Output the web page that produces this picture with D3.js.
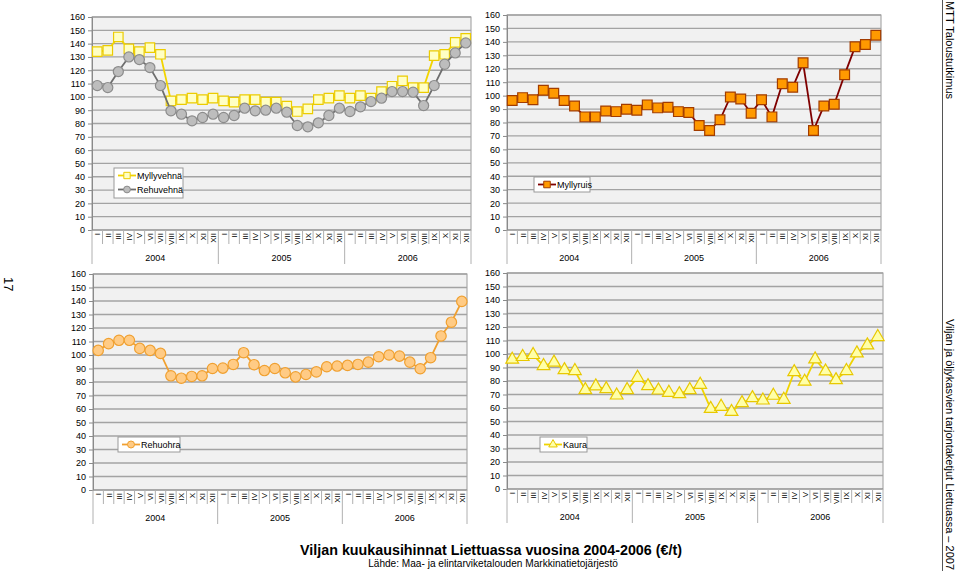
<!DOCTYPE html>
<html><head><meta charset="utf-8">
<script src="https://cdn.jsdelivr.net/npm/d3@7"></script>
<style>
body{margin:0;background:#fff;}
svg{display:block;font-family:"Liberation Sans",Arial,sans-serif;}
</style></head>
<body><svg id="c" width="960" height="571"></svg>
<script>
const months = ["I","II","III","IV","V","VI","VII","VIII","IX","X","XI","XII"];
const years = ["2004","2005","2006"];
const yTicks = [0,10,20,30,40,50,60,70,80,90,100,110,120,130,140,150,160];

const myllyvehna = [134,135,145,136,134,137,132,97,98,99,98,99,97,96,98,98,96,96,93,89,91,98,99,101,99,101,99,104,108,112,107,107,131,132,141,144];
const rehuvehna = [108.5,107,119,130,128,122,108.5,89.5,87,82,84.5,87,84.5,86,91.5,89.5,90,91.5,88.5,78.5,77.5,80.5,86,91.5,89,92.5,96.5,99,104,104,103.5,93.5,108.5,124.5,133,140.5];
const myllyruis = [96.3,98.5,97,104,101.7,96.3,92.3,84.2,84.2,88.6,88.1,89.9,89.1,93.1,90.9,91.4,88.1,87.4,77.8,74.1,82,99,97.5,86.9,97,84.2,108.9,106.2,124.4,74.1,92.3,93.6,115.6,136.3,138,145];
const rehuohra = [103.4,108.4,110.9,110.9,104.9,103.4,101.2,84.6,82.8,84.1,84.6,90,90.3,93,101.7,92.8,88.5,90,86.8,83.8,85.6,87.5,91.3,91.8,92.3,93,94.7,98.7,100,99.2,94.7,89.8,98,114.1,124.3,139.7];
const kaura = [95.9,97.9,99.4,91.2,93.7,88.2,87.5,73.4,76.1,74.1,69.4,73.4,82.5,76.3,73.1,71.4,70.4,73.4,77.3,59.5,61,57.2,63.7,67.4,65.7,69.2,66.2,86.7,79.6,96.1,87.2,80.8,87.5,100.6,106.5,112.7];

const titleText = "Viljan kuukausihinnat Liettuassa vuosina 2004-2006 (€/t)";
const sourceText = "Lähde: Maa- ja elintarviketalouden Markkinatietojärjestö";

const labels = [];
years.forEach(y => months.forEach(m => labels.push({y, m})));
const idx = d3.range(labels.length);

const svg = d3.select("#c");

const styles = {
  "Myllyvehnä": {line:"#f2d400", fill:"#ffffc4", stroke:"#eccc00", sym:d3.symbolSquare, size:90},
  "Rehuvehnä": {line:"#6e6e6e", fill:"#bdbdbd", stroke:"#8c8c8c", sym:d3.symbolCircle, size:80},
  "Myllyruis": {line:"#7f0000", fill:"#ff9900", stroke:"#a23c00", sym:d3.symbolSquare, size:95},
  "Rehuohra": {line:"#f0a030", fill:"#ffcb85", stroke:"#f0a030", sym:d3.symbolCircle, size:85},
  "Kaura": {line:"#f0d400", fill:"#ffffa8", stroke:"#e8c800", sym:d3.symbolTriangle, size:70}
};

const panels = [
  {x0:92, x1:471, yTop:17, yBot:230, series:[["Myllyvehnä",myllyvehna],["Rehuvehnä",rehuvehna]], legend:{x:114,y:168,w:69,h:30}},
  {x0:507, x1:881, yTop:15, yBot:230, series:[["Myllyruis",myllyruis]], legend:{x:534,y:177,w:56,h:15}},
  {x0:93, x1:467, yTop:274, yBot:490, series:[["Rehuohra",rehuohra]], legend:{x:118,y:437,w:62,h:15}},
  {x0:507, x1:883, yTop:273, yBot:489, series:[["Kaura",kaura]], legend:{x:540,y:437,w:47,h:15}}
];

panels.forEach(p => {
  const g = svg.append("g");
  const x = d3.scaleBand().domain(idx).range([p.x0, p.x1]);
  const y = d3.scaleLinear().domain([0,160]).range([p.yBot, p.yTop]);
  g.append("rect").attr("x",p.x0).attr("y",p.yTop).attr("width",p.x1-p.x0).attr("height",p.yBot-p.yTop)
    .attr("fill","#f1f1f1").attr("stroke","#9a9a9a").attr("stroke-width",1);
  g.selectAll(".grid").data(yTicks.slice(1)).join("line")
    .attr("x1",p.x0).attr("x2",p.x1).attr("y1",d=>y(d)).attr("y2",d=>y(d))
    .attr("stroke","#a3a3a3").attr("stroke-width",1.3);
  const ya = g.append("g").attr("transform",`translate(${p.x0},0)`)
    .call(d3.axisLeft(y).tickValues(yTicks).tickSize(4).tickPadding(3));
  ya.select(".domain").attr("stroke","#8a8a8a");
  ya.selectAll(".tick line").attr("stroke","#8a8a8a");
  ya.selectAll("text").attr("font-size",9).attr("fill","#000").attr("font-family","Liberation Sans, Arial, sans-serif");
  g.append("line").attr("x1",p.x0).attr("x2",p.x1).attr("y1",p.yBot).attr("y2",p.yBot).attr("stroke","#8a8a8a");
  const bounds = d3.range(labels.length+1);
  g.selectAll(".sep").data(bounds).join("line")
    .attr("x1",i=>p.x0 + i*x.step()).attr("x2",i=>p.x0 + i*x.step())
    .attr("y1",p.yBot).attr("y2",i=> i%12===0 ? p.yBot+34 : p.yBot+14)
    .attr("stroke","#b0b0b0").attr("stroke-width",1);
  g.selectAll(".mlab").data(idx).join("text")
    .attr("transform",i=>`translate(${x(i)+x.bandwidth()/2+3},${p.yBot+3}) rotate(-90)`)
    .attr("text-anchor","end").attr("font-size",8).attr("fill","#000")
    .text(i=>labels[i].m);
  g.selectAll(".ylab").data(years).join("text")
    .attr("x",(d,k)=>p.x0 + (k*12+6)*x.step()).attr("y",p.yBot+31)
    .attr("text-anchor","middle").attr("font-size",9).attr("fill","#000").text(d=>d);
  p.series.forEach(([name, vals]) => {
    const st = styles[name];
    const line = d3.line().x((d,i)=>x(i)+x.bandwidth()/2).y(d=>y(d));
    g.append("path").datum(vals).attr("d",line).attr("fill","none")
      .attr("stroke",st.line).attr("stroke-width",1.8);
    g.selectAll(null).data(vals).join("path")
      .attr("transform",(d,i)=>`translate(${x(i)+x.bandwidth()/2},${y(d)})`)
      .attr("d",d3.symbol().type(st.sym).size(st.size))
      .attr("fill",st.fill).attr("stroke",st.stroke).attr("stroke-width",1.2);
  });
  const L = p.legend;
  g.append("rect").attr("x",L.x).attr("y",L.y).attr("width",L.w).attr("height",L.h)
    .attr("fill","#fff").attr("stroke","#9a9a9a");
  p.series.forEach(([name], k) => {
    const st = styles[name];
    const cy = L.y + 7.5 + k*14;
    g.append("line").attr("x1",L.x+4).attr("x2",L.x+22).attr("y1",cy).attr("y2",cy)
      .attr("stroke",st.line).attr("stroke-width",1.8);
    g.append("path").attr("transform",`translate(${L.x+13},${cy})`)
      .attr("d",d3.symbol().type(st.sym).size(st.size*0.45))
      .attr("fill",st.fill).attr("stroke",st.stroke).attr("stroke-width",1);
    g.append("text").attr("x",L.x+23).attr("y",cy+3.3).attr("font-size",9).attr("fill","#000").text(name);
  });
});

svg.append("text").attr("x",491).attr("y",555).attr("text-anchor","middle")
  .attr("font-size",14.3).attr("font-weight","bold").text(titleText);
svg.append("text").attr("x",493).attr("y",567).attr("text-anchor","middle")
  .attr("font-size",10.1).text(sourceText);

svg.append("line").attr("x1",942.5).attr("x2",942.5).attr("y1",0).attr("y2",571).attr("stroke","#555").attr("stroke-width",1);
svg.append("text").attr("transform","translate(946,1) rotate(90)").attr("font-size",11).attr("text-anchor","start").text("MTT Taloustutkimus");
svg.append("text").attr("transform","translate(946,570) rotate(90)").attr("font-size",11).attr("text-anchor","end").text("Viljan ja öljykasvien tarjontaketjut Liettuassa – 2007");
svg.append("text").attr("transform","translate(4,277) rotate(90)").attr("font-size",13).attr("text-anchor","start").text("17");
</script></body></html>
